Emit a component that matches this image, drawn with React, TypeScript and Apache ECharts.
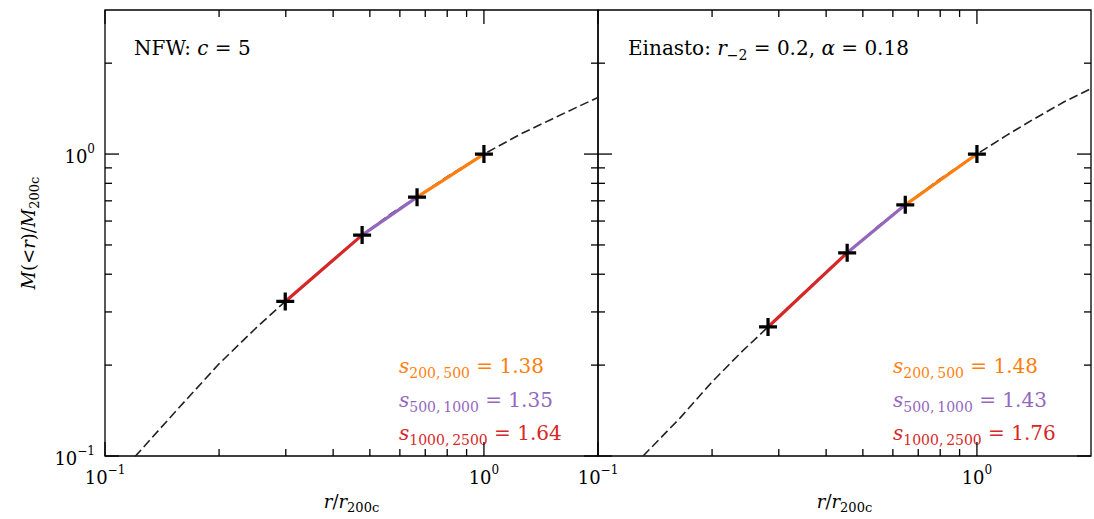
import React, { useEffect, useRef } from 'react';
import * as echarts from 'echarts';

// NFW (c = 5) cumulative mass profile
const nfwCurveX = [0.12, 0.15, 0.2, 0.25, 0.299, 0.4, 0.477, 0.57, 0.666, 0.8, 1.0, 1.25, 1.5, 1.75, 2.0];
const nfwCurveY = [0.0995, 0.136, 0.202, 0.265, 0.325, 0.447, 0.539, 0.636, 0.72, 0.842, 1.0, 1.165, 1.3, 1.425, 1.54];
const nfwMarkX = [0.299, 0.477, 0.666, 1.0];
const nfwMarkY = [0.325, 0.539, 0.72, 1.0];

// Einasto (r_-2 = 0.2, alpha = 0.18)
const einCurveX = [0.1315, 0.165, 0.2, 0.24, 0.281, 0.36, 0.4545, 0.55, 0.647, 0.8, 1.0, 1.2, 1.4, 1.7, 2.0];
const einCurveY = [0.1, 0.134, 0.176, 0.222, 0.2675, 0.36, 0.471, 0.578, 0.679, 0.828, 1.0, 1.155, 1.297, 1.49, 1.647];
const einMarkX = [0.281, 0.4545, 0.647, 1.0];
const einMarkY = [0.2675, 0.471, 0.679, 1.0];

const slopeNames = ['200,\u2009500', '500,\u20091000', '1000,\u20092500'];
const nfwSlopes = [1.38, 1.35, 1.64];
const einSlopes = [1.48, 1.43, 1.76];
const segColors = ['#ff7f0e', '#9467bd', '#d62728'];

const xMajorTicks = [0.1, 1];
const xMinorTicks = [0.2, 0.3, 0.4, 0.5, 0.6, 0.7, 0.8, 0.9];
const yMajorTicks = [0.1, 1];
const yMinorTicks = [0.2, 0.3, 0.4, 0.5, 0.6, 0.7, 0.8, 0.9, 2];

const SERIF = "'DejaVu Serif', serif";

const labelRich = {
  b: { fontSize: 18, fontFamily: SERIF, color: '#000', verticalAlign: 'bottom', lineHeight: 22 },
  s: { fontSize: 12, fontFamily: SERIF, color: '#000', verticalAlign: 'top', lineHeight: 12 },
};

function powFormatter(v: number) {
  const e = Math.log10(v);
  const r = Math.round(e);
  if (Math.abs(e - r) > 1e-6) return '';
  const sup = r < 0 ? '\u2212' + -r : String(r);
  return `{b|10}{s|${sup}}`;
}

const nameRich = {
  i: { fontSize: 18, fontFamily: SERIF, fontStyle: 'italic', color: '#000', verticalAlign: 'top', lineHeight: 22 },
  n: { fontSize: 18, fontFamily: SERIF, color: '#000', verticalAlign: 'top', lineHeight: 22 },
  sub: { fontSize: 13, fontFamily: SERIF, color: '#000', verticalAlign: 'bottom', lineHeight: 14 },
};

function zip(a: number[], b: number[]) {
  return a.map((v, i) => [v, b[i]]);
}

function tickData() {
  return [
    ...xMajorTicks.map((v) => [v, 1, 0]),
    ...xMinorTicks.map((v) => [v, 1, 1]),
    ...yMajorTicks.map((v) => [1, v, 2]),
    ...yMinorTicks.map((v) => [1, v, 3]),
  ];
}

function tickSeries(idx: number) {
  return {
    type: 'custom',
    xAxisIndex: idx,
    yAxisIndex: idx,
    clip: false,
    silent: true,
    z: 10,
    encode: { x: 0, y: 1 },
    data: tickData(),
    renderItem: (params: any, api: any) => {
      const cs = params.coordSys;
      const kind = api.value(2);
      const len = kind === 0 || kind === 2 ? 14 : 7;
      const st = { stroke: '#000', lineWidth: 1.3 };
      if (kind < 2) {
        const px = api.coord([api.value(0), 1])[0];
        const yb = cs.y + cs.height;
        return {
          type: 'group',
          children: [
            { type: 'line', shape: { x1: px, y1: yb, x2: px, y2: yb - len }, style: st },
            { type: 'line', shape: { x1: px, y1: cs.y, x2: px, y2: cs.y + len }, style: st },
          ],
        };
      }
      const py = api.coord([1, api.value(1)])[1];
      const xr = cs.x + cs.width;
      return {
        type: 'group',
        children: [
          { type: 'line', shape: { x1: cs.x, y1: py, x2: cs.x + len, y2: py }, style: st },
          { type: 'line', shape: { x1: xr, y1: py, x2: xr - len, y2: py }, style: st },
        ],
      };
    },
  };
}

const PLUS = 'path://M41,0H59V41H100V59H59V100H41V59H0V41H41Z';

function panelSeries(idx: number, cx: number[], cy: number[], mx: number[], my: number[]) {
  const s: any[] = [
    {
      type: 'line',
      xAxisIndex: idx,
      yAxisIndex: idx,
      data: zip(cx, cy),
      symbol: 'none',
      smooth: false,
      clip: true,
      lineStyle: { color: '#222', width: 1.6, type: [9, 4] },
      z: 2,
    },
  ];
  const marks = zip(mx, my);
  for (let i = 0; i < 3; i++) {
    s.push({
      type: 'line',
      xAxisIndex: idx,
      yAxisIndex: idx,
      data: [marks[2 - i], marks[3 - i]],
      symbol: 'none',
      lineStyle: { color: segColors[i], width: 3.2 },
      z: 3,
    });
  }
  s.push({
    type: 'scatter',
    xAxisIndex: idx,
    yAxisIndex: idx,
    data: marks,
    symbol: PLUS,
    symbolSize: 18,
    itemStyle: { color: '#000', opacity: 1 },
    z: 4,
  });
  s.push(tickSeries(idx));
  return s;
}

const slopeRich = (color: string) => ({
  i: { fontSize: 20, fontFamily: SERIF, fontStyle: 'italic', fill: color, verticalAlign: 'top', lineHeight: 24 },
  n: { fontSize: 20, fontFamily: SERIF, fill: color, verticalAlign: 'top', lineHeight: 24 },
  sub: { fontSize: 14, fontFamily: SERIF, fill: color, verticalAlign: 'bottom', lineHeight: 16 },
});

function slopeTexts(x: number, slopes: number[]) {
  const ys = [368, 402, 435];
  return slopes.map((v, i) => ({
    type: 'text',
    x,
    y: ys[i],
    style: {
      text: `{i|s}{sub|${slopeNames[i]}}{n| = ${v.toFixed(2)}}`,
      rich: slopeRich(segColors[i]),
      fill: segColors[i],
      align: 'left',
      verticalAlign: 'middle',
    },
  }));
}

export default function App() {
  const ref = useRef<HTMLDivElement>(null);
  useEffect(() => {
    if (!ref.current) return;
    const chart = echarts.init(ref.current, undefined, { renderer: 'svg' });
    const gridBase = { top: 10, height: 456, width: 493, show: true, borderColor: '#000', borderWidth: 1.3 };
    const xAxisBase = (idx: number) => ({
      gridIndex: idx,
      type: 'log',
      logBase: 10,
      min: 0.1,
      max: 2,
      axisLine: { show: false },
      axisTick: { show: false },
      splitLine: { show: false },
      minorTick: { show: false },
      axisLabel: { formatter: powFormatter, rich: labelRich, margin: 8 },
      name: '{i|r}{n|/}{i|r}{sub|200c}',
      nameLocation: 'middle',
      nameGap: 36,
      nameTextStyle: { rich: nameRich },
    });
    const yAxisBase = (idx: number) => ({
      gridIndex: idx,
      type: 'log',
      logBase: 10,
      min: 0.1,
      max: 3,
      axisLine: { show: false },
      axisTick: { show: false },
      splitLine: { show: false },
      minorTick: { show: false },
      axisLabel: idx === 0 ? { formatter: powFormatter, rich: labelRich, margin: 10 } : { show: false },
      name: idx === 0 ? '{i|M}{n|(<}{i|r}{n|)/}{i|M}{sub|200c}' : '',
      nameLocation: 'middle',
      nameGap: 64,
      nameRotate: 90,
      nameTextStyle: { rich: nameRich },
    });
    const textRich = {
      n: { fontSize: 20, fontFamily: SERIF, fill: '#000', verticalAlign: 'top', lineHeight: 24 },
      i: { fontSize: 20, fontFamily: SERIF, fontStyle: 'italic', fill: '#000', verticalAlign: 'top', lineHeight: 24 },
      sub: { fontSize: 14, fontFamily: SERIF, fill: '#000', verticalAlign: 'bottom', lineHeight: 16 },
    };
    chart.setOption({
      animation: false,
      backgroundColor: '#fff',
      grid: [
        { ...gridBase, left: 105 },
        { ...gridBase, left: 598 },
      ],
      xAxis: [xAxisBase(0), xAxisBase(1)],
      yAxis: [yAxisBase(0), yAxisBase(1)],
      series: [
        ...panelSeries(0, nfwCurveX, nfwCurveY, nfwMarkX, nfwMarkY),
        ...panelSeries(1, einCurveX, einCurveY, einMarkX, einMarkY),
      ],
      graphic: [
        {
          type: 'text',
          x: 134,
          y: 50,
          style: {
            text: '{n|NFW: }{i|c}{n| = 5}',
            rich: textRich,
            align: 'left',
            verticalAlign: 'middle',
          },
        },
        {
          type: 'text',
          x: 628,
          y: 50,
          style: {
            text: '{n|Einasto: }{i|r}{sub|\u22122}{n| = 0.2, }{i|\u03b1}{n| = 0.18}',
            rich: textRich,
            align: 'left',
            verticalAlign: 'middle',
          },
        },
        ...slopeTexts(399, nfwSlopes),
        ...slopeTexts(893, einSlopes),
      ],
    });
    return () => chart.dispose();
  }, []);
  return <div ref={ref} style={{ position: 'absolute', left: 0, top: 0, width: 1094, height: 519 }} />;
}
